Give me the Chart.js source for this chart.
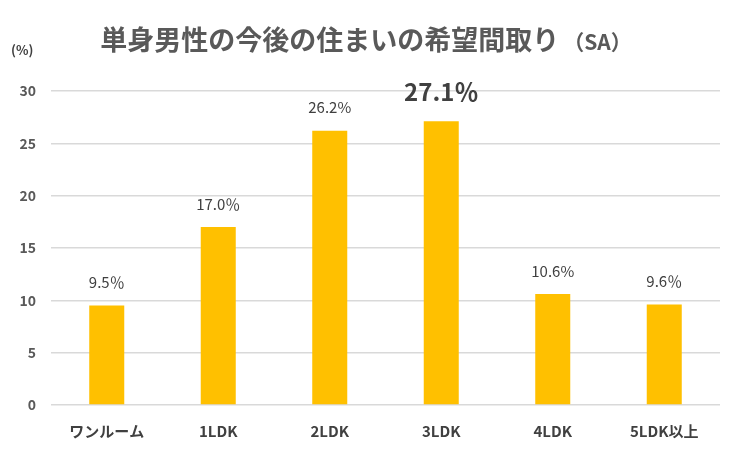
<!DOCTYPE html>
<html>
<head>
<meta charset="utf-8">
<script src="https://cdn.jsdelivr.net/npm/chart.js@4"></script>
<style>
  html, body { margin: 0; padding: 0; background: #fff; }
  .wrap { position: relative; width: 744px; height: 463px; }
  .title {
    position: absolute; left: 0; top: 19px; width: 732px;
    font-family: "Noto Sans CJK JP", sans-serif; font-weight: bold;
    color: #595959; font-size: 27px; line-height: 40px; text-align: center;
    letter-spacing: 0px; white-space: nowrap;
  }
  .title small { font-size: 21px; font-weight: bold; letter-spacing: 0px; margin-left: 4px; }
  .unit {
    position: absolute; left: 11px; top: 40px;
    font-family: "Noto Sans CJK JP", sans-serif; font-weight: bold;
    color: #404040; font-size: 13px;
  }
</style>
</head>
<body>
<div class="wrap">
  <canvas id="chart" width="744" height="463"></canvas>
  <div class="title">単身男性の今後の住まいの希望間取り<small>（SA）</small></div>
  <div class="unit">(%)</div>
</div>
<script>
window.addEventListener('DOMContentLoaded', (event) => {
  // Data
  const categories = ["ワンルーム", "1LDK", "2LDK", "3LDK", "4LDK", "5LDK以上"];
  const shares = [9.5, 17.0, 26.2, 27.1, 10.6, 9.6];
  const shareLabels = ["9.5％", "17.0％", "26.2%", "27.1％", "10.6%", "9.6％"];
  const yTicks = [0, 5, 10, 15, 20, 25, 30];
  const highlightIndex = 3;

  // Labels above bars
  const barLabels = {
    id: "barLabels",
    afterDatasetsDraw(chart) {
      const ctx = chart.ctx;
      const meta = chart.getDatasetMeta(0);
      ctx.save();
      ctx.textAlign = "center";
      ctx.textBaseline = "middle";
      meta.data.forEach((bar, i) => {
        if (i === highlightIndex) {
          ctx.font = "bold 24px 'Noto Sans CJK JP', sans-serif";
          ctx.fillStyle = "#404040";
          ctx.fillText(shareLabels[i], bar.x, bar.y - 29);
        } else {
          ctx.font = "15px 'Noto Sans CJK JP', sans-serif";
          ctx.fillStyle = "#404040";
          ctx.fillText(shareLabels[i], bar.x, bar.y - 23);
        }
      });
      ctx.restore();
    }
  };

  const config = {
    type: "bar",
    data: {
      labels: categories,
      datasets: [{
        data: shares,
        backgroundColor: "#FFC000",
        barPercentage: 0.314,
        categoryPercentage: 1
      }]
    },
    options: {
      responsive: false,
      animation: false,
      layout: { padding: { top: 91, right: 24, bottom: 0, left: 0 } },
      plugins: {
        legend: { display: false },
        tooltip: { enabled: false }
      },
      scales: {
        x: {
          grid: { display: false },
          border: { display: false },
          ticks: {
            color: "#404040",
            font: { family: "'Noto Sans CJK JP', sans-serif", size: 15, weight: "bold" },
            padding: 9,
            maxRotation: 0,
            callback(value, index) {
              return categories[index];
            }
          },
          afterFit(scale) { scale.height = 58; }
        },
        y: {
          min: 0,
          max: 30,
          afterBuildTicks(scale) { scale.ticks = yTicks.map(v => ({ value: v })); },
          grid: { color: "#D9D9D9", lineWidth: 1.5, drawTicks: false },
          border: { display: false },
          ticks: {
            color: "#595959",
            font: { family: "'Noto Sans CJK JP', sans-serif", size: 14, weight: "bold" },
            padding: 15
          },
          afterFit(scale) { scale.width = 51; }
        }
      }
    },
    plugins: [barLabels]
  };

  const chart = new Chart(document.getElementById("chart"), config);
});
</script>
</body>
</html>
